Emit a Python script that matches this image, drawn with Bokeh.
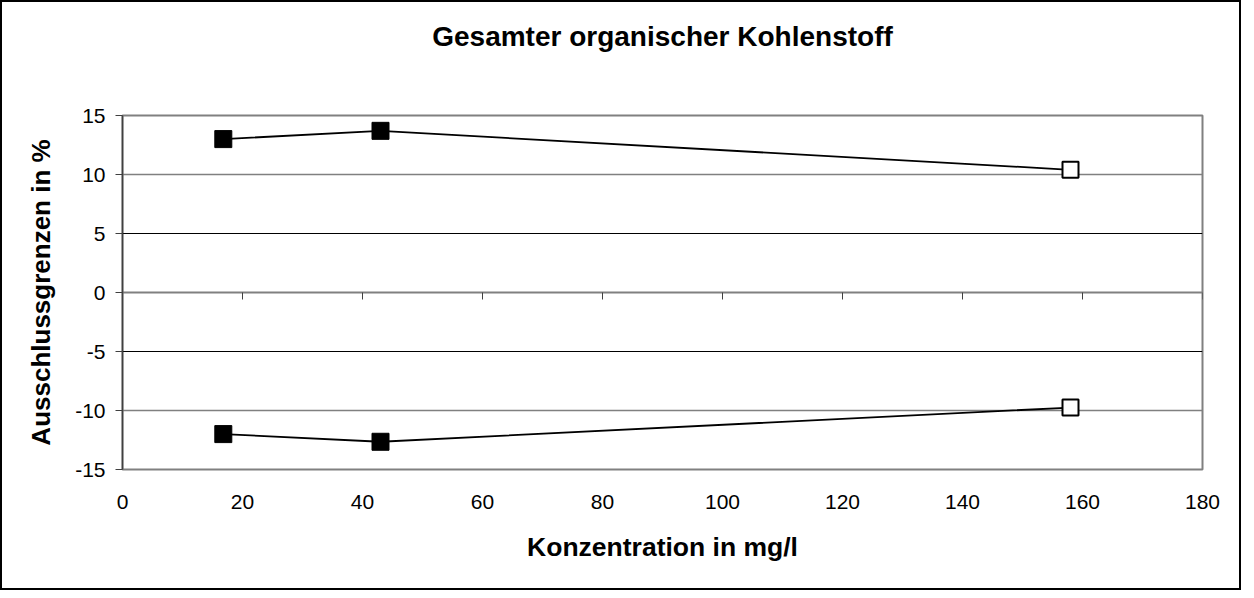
from bokeh.plotting import figure
from bokeh.models import Range1d, LinearAxis, FixedTicker, Grid, PrintfTickFormatter, Title
from bokeh.embed import file_html
from bokeh.resources import INLINE

# ---- data ----
conc = [16.8, 43.0, 158.0]             # Konzentration in mg/l
upper_limit = [13.0, 13.7, 10.4]       # obere Ausschlussgrenze in %
lower_limit = [-12.0, -12.65, -9.75]   # untere Ausschlussgrenze in %
n_filled = 2                           # first points filled, last one hollow

x_ticks = [0, 20, 40, 60, 80, 100, 120, 140, 160, 180]
y_ticks = [-15, -10, -5, 0, 5, 10, 15]
grid_gray = [-10, 10]
grid_dark = [-5, 5]

title_text = "Gesamter organischer Kohlenstoff"
x_title = "Konzentration in mg/l"
y_title = "Ausschlussgrenzen in %"

FONT = "Liberation Sans"

p = figure(width=1241, height=590, output_backend="svg", toolbar_location=None,
           x_range=Range1d(0, 180), y_range=Range1d(-15, 15),
           min_border_left=120, min_border_right=41,
           min_border_top=113, min_border_bottom=123,
           background_fill_color="white", border_fill_color="white")
p.styles = {"border": "2px solid black", "box-sizing": "border-box"}

p.outline_line_color = "#808080"
p.outline_line_width = 2

# spacer between frame and title (pushes the title upwards)
p.add_layout(Title(text=" ", text_font_size="20px", standoff=40), "above")

# title
p.title.text = title_text
p.title.align = "center"
p.title.text_font = FONT
p.title.text_font_size = "28px"
p.title.text_font_style = "bold"
p.title.text_color = "black"
p.title.standoff = 0

# bottom axis: only labels
xa = p.xaxis[0]
xa.ticker = FixedTicker(ticks=x_ticks)
xa.formatter = PrintfTickFormatter(format="%d")
xa.axis_line_color = None
xa.major_tick_line_color = None
xa.minor_tick_line_color = None
xa.major_label_text_font = FONT
xa.major_label_text_font_size = "21px"
xa.major_label_text_color = "black"
xa.major_label_standoff = 19
xa.axis_label = x_title
xa.axis_label_text_font = FONT
xa.axis_label_text_font_size = "26.5px"
xa.axis_label_text_font_style = "bold"
xa.axis_label_text_color = "black"
xa.axis_label_standoff = 20

# zero line axis with ticks
zx = LinearAxis(fixed_location=0, ticker=FixedTicker(ticks=x_ticks))
zx.axis_line_color = "#808080"
zx.axis_line_width = 2
zx.major_tick_line_color = "#404040"
zx.major_tick_line_width = 1
zx.major_tick_out = 7
zx.major_tick_in = 0
zx.minor_tick_line_color = None
zx.major_label_text_font_size = "0px"
zx.major_label_text_color = None
p.add_layout(zx, "below")

# left axis
ya = p.yaxis[0]
ya.ticker = FixedTicker(ticks=y_ticks)
ya.formatter = PrintfTickFormatter(format="%d")
ya.axis_line_color = "#404040"
ya.axis_line_width = 1.5
ya.major_tick_line_color = "#404040"
ya.major_tick_out = 7
ya.major_tick_in = 0
ya.minor_tick_line_color = None
ya.major_label_text_font = FONT
ya.major_label_text_font_size = "21px"
ya.major_label_text_color = "black"
ya.major_label_standoff = 10
ya.axis_label = y_title
ya.axis_label_text_font = FONT
ya.axis_label_text_font_size = "26px"
ya.axis_label_text_font_style = "bold"
ya.axis_label_text_color = "black"
ya.axis_label_standoff = 16

# grids
p.xgrid.visible = False
p.ygrid.ticker = FixedTicker(ticks=grid_gray)
p.ygrid.grid_line_color = "#808080"
p.ygrid.grid_line_width = 1.5
p.add_layout(Grid(dimension=1, ticker=FixedTicker(ticks=grid_dark),
                  grid_line_color="black", grid_line_width=1))

# series
for series in (upper_limit, lower_limit):
    p.line(conc, series, line_color="black", line_width=1.8)
    p.scatter(conc[:n_filled], series[:n_filled], marker="square", size=17,
              fill_color="black", line_color="black", line_width=1)
    p.scatter(conc[n_filled:], series[n_filled:], marker="square", size=16,
              fill_color="white", line_color="black", line_width=2)

open("out.html", "w").write(file_html(p, INLINE))
